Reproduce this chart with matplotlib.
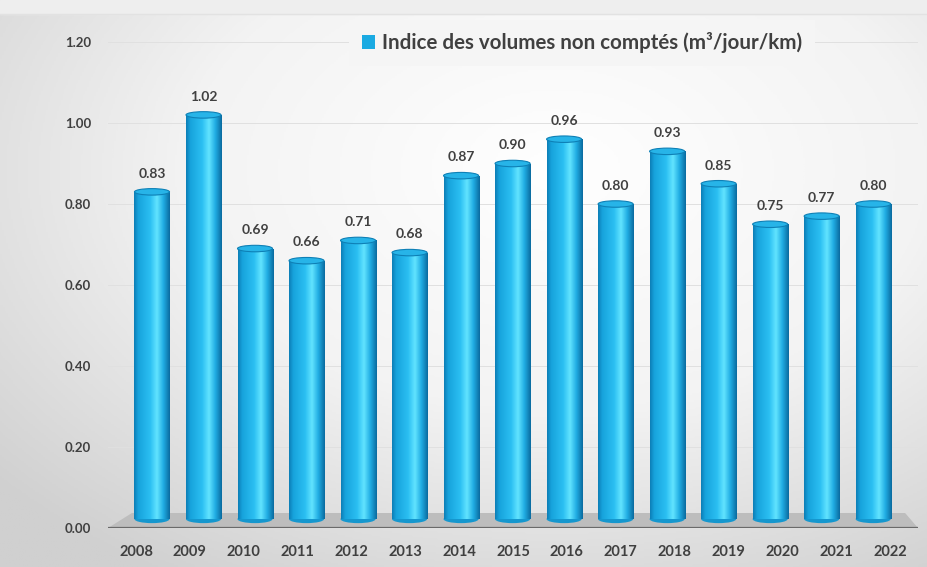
import numpy as np
import matplotlib.pyplot as plt
from matplotlib.colors import LinearSegmentedColormap
from matplotlib.patches import Ellipse, Polygon

years = ['2008', '2009', '2010', '2011', '2012', '2013', '2014', '2015',
         '2016', '2017', '2018', '2019', '2020', '2021', '2022']
values = [0.83, 1.02, 0.69, 0.66, 0.71, 0.68, 0.87, 0.90,
          0.96, 0.80, 0.93, 0.85, 0.75, 0.77, 0.80]
yticks = [0.0, 0.2, 0.4, 0.6, 0.8, 1.0, 1.2]
legend_label = 'Indice des volumes non comptés (m³/jour/km)'

plt.rcParams['font.family'] = ['Lato', 'DejaVu Sans']
txt = '#404040'

cyl = LinearSegmentedColormap.from_list('cyl', [
    (0.0, '#0C7DB5'), (0.12, '#17A3DC'), (0.45, '#2BBFF2'),
    (0.64, '#62E4FF'), (0.82, '#20ACE3'), (1.0, '#0A6A9E')])
bgmap = LinearSegmentedColormap.from_list('bg', ['#FFFFFF', '#F3F3F3', '#D0D0D0'])

W, H = 928, 567
fig = plt.figure(figsize=(W / 100, H / 100), dpi=100)

# background with soft radial gradient
bg = fig.add_axes([0, 0, 1, 1])
bg.axis('off')
yy, xx = np.mgrid[0:1:300j, 0:1:500j]
r = np.sqrt(((xx - 0.6) / 0.8) ** 2 + ((yy - 0.3) / 0.85) ** 2)
bg.imshow(r, cmap=bgmap, extent=[0, 1, 0, 1], origin='upper', aspect='auto', vmin=0, vmax=1.0)
bg.axhspan(1 - 14 / H, 1, color='#EEEEEE')
bg.axhline(1 - 14 / H, color='#E2E2E2', lw=1)
bg.set_xlim(0, 1)
bg.set_ylim(0, 1)

# main axes (pixel geometry)
left, right, bottom, top = 108, 918, 528, 42
rect = [left / W, (H - bottom) / H, (right - left) / W, (bottom - top) / H]
ax = fig.add_axes(rect)
ax.patch.set_alpha(0)
for s in ax.spines.values():
    s.set_visible(False)

x = np.arange(len(years))
xlim = (-0.854, 14.87)
ylim = (0, 1.2)

for t in yticks[1:]:
    ax.axhline(t, color='#E0E0E0', lw=0.7, zorder=0)

# floor
floor = Polygon([(xlim[0], 0), (xlim[1], 0), (14.62, 0.037), (-0.39, 0.037)],
                closed=True, facecolor='#BDBDBD', edgecolor='none', zorder=1)
ax.add_patch(floor)
ax.plot(xlim, [0, 0], color='#6A6A6A', lw=1.6, zorder=2, solid_capstyle='butt')

width = 0.68
base = 0.022
bars = ax.bar(x, [v - base for v in values], bottom=base, width=width,
              color='#1AAAE2', label=legend_label, zorder=3)

grad = np.linspace(0, 1, 256).reshape(1, -1)
for xi, v, p in zip(x, values, bars.patches):
    ax.add_patch(Ellipse((xi, base), width, 0.02, facecolor='#1597CE',
                         edgecolor='none', zorder=2.9))
    im = ax.imshow(grad, cmap=cyl, extent=[xi - width / 2, xi + width / 2, base, v],
                   aspect='auto', zorder=3.1, interpolation='bilinear')
    im.set_clip_path(p)
    ax.add_patch(Ellipse((xi, v), width, 0.016, facecolor='#27B4E8',
                         edgecolor='#0E80B6', lw=0.8, zorder=4))
    ax.text(xi, v + 0.045, f'{v:.2f}', ha='center', va='center',
            fontsize=10, fontweight='bold', color=txt, zorder=5)

ax.set_xlim(*xlim)
ax.set_ylim(*ylim)
ax.set_xticks([])
ax.set_yticks(yticks)
ax.set_yticklabels([f'{t:.2f}' for t in yticks], fontsize=9.5, fontweight='bold', color=txt)
ax.tick_params(axis='y', length=0, pad=12)

# year labels (perspective: spread slightly wider than bars)
lab = fig.add_axes(rect, frameon=False)
lab.patch.set_alpha(0)
lab.set_xlim(-0.52, 14.52)
lab.set_xticks(x)
lab.set_xticklabels(years, fontsize=10.5, fontweight='bold', color=txt)
lab.tick_params(axis='x', length=0, pad=12)
lab.set_yticks([])

leg = ax.legend(loc='center', bbox_to_anchor=(0.585, 0.998), frameon=True,
                fancybox=False, facecolor='#F5F5F5', edgecolor='none', framealpha=1,
                handlelength=0.65, handleheight=0.65, handletextpad=0.35,
                prop={'size': 14.8, 'weight': 'bold'}, borderpad=0.6)
for t in leg.get_texts():
    t.set_color(txt)

fig.savefig('out.png', dpi=100)
